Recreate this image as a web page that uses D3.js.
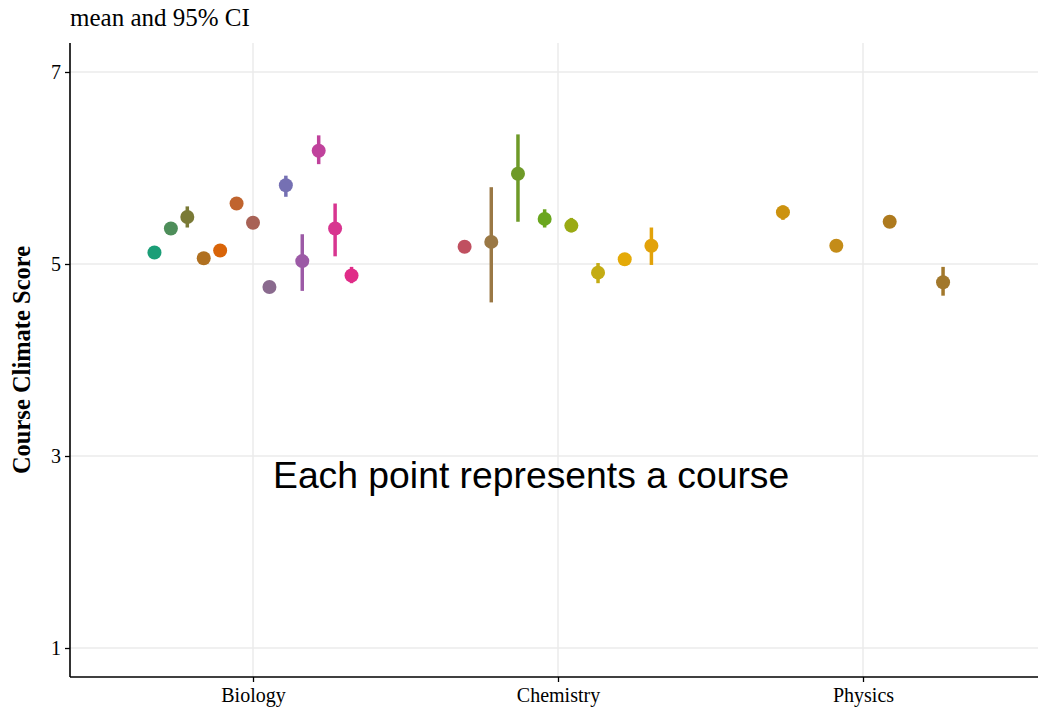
<!DOCTYPE html>
<html>
<head>
<meta charset="utf-8">
<script src="https://cdn.jsdelivr.net/npm/d3@7"></script>
<style>
  html, body { margin: 0; padding: 0; background: #ffffff; }
  svg { display: block; }
</style>
</head>
<body>
<svg id="chart" width="1038" height="709"></svg>
<script>
// ---- data ----
const departments = ["Biology", "Chemistry", "Physics"];
const yTicks = [1, 3, 5, 7];

const courseDept = [
  "Biology","Biology","Biology","Biology","Biology","Biology","Biology",
  "Biology","Biology","Biology","Biology","Biology","Biology",
  "Chemistry","Chemistry","Chemistry","Chemistry","Chemistry","Chemistry","Chemistry","Chemistry",
  "Physics","Physics","Physics","Physics"
];
const courseMean = [
  5.12, 5.37, 5.49, 5.06, 5.14, 5.63, 5.43, 4.76, 5.82, 5.03, 6.18, 5.37, 4.88,
  5.18, 5.23, 5.94, 5.47, 5.40, 4.91, 5.05, 5.19,
  5.54, 5.19, 5.44, 4.81
];
const courseLow = [
  5.09, 5.34, 5.38, 5.03, 5.11, 5.60, 5.40, 4.73, 5.70, 4.72, 6.04, 5.08, 4.80,
  5.15, 4.60, 5.44, 5.38, 5.33, 4.80, 5.02, 4.99,
  5.46, 5.13, 5.41, 4.67
];
const courseHigh = [
  5.15, 5.40, 5.60, 5.09, 5.17, 5.66, 5.46, 4.79, 5.92, 5.31, 6.34, 5.63, 4.97,
  5.21, 5.80, 6.35, 5.57, 5.48, 5.01, 5.08, 5.38,
  5.61, 5.26, 5.47, 4.97
];
const courseColor = [
  "#1b9e77","#4e8e5a","#7a7a36","#b07020","#d96408","#c0642e","#a86256",
  "#8a6a8e","#7570b3","#9c5aa6","#c0429c","#d83590","#e02c88",
  "#c05060","#9a7845","#6e9a28","#6aa61e","#9aaa14","#c4ac14","#e4aa08","#e2a20a",
  "#cc920e","#c48c18","#ae7a1e","#a2782c"
];

// ---- layout ----
const svg = d3.select("#chart");
const padL = 70, padR = 1046, padT = 43, padB = 677;

const x = d3.scalePoint().domain(departments).range([padL, padR]).padding(0.6);
const y = d3.scaleLinear().domain([0.698, 7.302]).range([padB, padT]);
const step = x.step();
const dodgeWidth = 0.7 * step;

// rows
const rows = courseDept.map((d, i) => ({dept: d, mean: courseMean[i], lo: courseLow[i], hi: courseHigh[i], color: courseColor[i]}));
const counts = {};
const idx = {};
rows.forEach(r => { counts[r.dept] = (counts[r.dept] || 0) + 1; });
rows.forEach(r => {
  const k = idx[r.dept] = (idx[r.dept] === undefined ? 0 : idx[r.dept] + 1);
  const n = counts[r.dept];
  r.px = x(r.dept) + (k - (n - 1) / 2) * (dodgeWidth / n);
});

// grid
const grid = svg.append("g");
grid.selectAll("line.gy").data(yTicks).enter().append("line")
  .attr("x1", padL).attr("x2", 1038).attr("y1", d => y(d)).attr("y2", d => y(d))
  .attr("stroke", "#ebebeb").attr("stroke-width", 1.5);
grid.selectAll("line.gx").data(departments).enter().append("line")
  .attr("x1", d => x(d)).attr("x2", d => x(d)).attr("y1", padT).attr("y2", padB)
  .attr("stroke", "#ebebeb").attr("stroke-width", 1.5);

// axes
const yAxis = d3.axisLeft(y).tickValues(yTicks).tickSize(5).tickPadding(4).tickFormat(d3.format("d"));
const gy = svg.append("g").attr("transform", `translate(${padL},0)`).call(yAxis);
gy.select(".domain").attr("d", `M0,${padT}V${padB}`).attr("stroke", "#000").attr("stroke-width", 1.6);
gy.selectAll(".tick line").attr("stroke", "#000").attr("stroke-width", 1.3);
gy.selectAll(".tick text").attr("font-family", "'Liberation Serif', 'Times New Roman', serif")
  .attr("font-size", 20).attr("fill", "#000");

const xAxis = d3.axisBottom(x).tickSize(5).tickPadding(6);
const gx = svg.append("g").attr("transform", `translate(0,${padB})`).call(xAxis);
gx.select(".domain").attr("d", `M${padL},0H1038`).attr("stroke", "#000").attr("stroke-width", 1.6);
gx.selectAll(".tick line").attr("stroke", "#000").attr("stroke-width", 1.3);
gx.selectAll(".tick text").attr("font-family", "'Liberation Serif', 'Times New Roman', serif")
  .attr("font-size", 20).attr("fill", "#000");

// CI lines
svg.append("g").selectAll("line").data(rows).enter().append("line")
  .attr("x1", d => d.px).attr("x2", d => d.px)
  .attr("y1", d => y(d.lo)).attr("y2", d => y(d.hi))
  .attr("stroke", d => d.color).attr("stroke-width", 3.5);

// points
svg.append("g").selectAll("circle").data(rows).enter().append("circle")
  .attr("cx", d => d.px).attr("cy", d => y(d.mean)).attr("r", 7)
  .attr("fill", d => d.color);

// titles
svg.append("text").attr("x", padL).attr("y", 26)
  .attr("font-family", "'Liberation Serif', 'Times New Roman', serif")
  .attr("font-size", 25).attr("fill", "#000").text("mean and 95% CI");

svg.append("text")
  .attr("transform", `translate(30,${(padT + padB) / 2}) rotate(-90)`)
  .attr("text-anchor", "middle")
  .attr("font-family", "'Liberation Serif', 'Times New Roman', serif")
  .attr("font-weight", "bold").attr("font-size", 24.5).attr("fill", "#000")
  .text("Course Climate Score");

svg.append("text").attr("x", 273).attr("y", 488)
  .attr("font-family", "'Liberation Sans', Arial, sans-serif")
  .attr("font-size", 37.3).attr("fill", "#000").text("Each point represents a course");
</script>
</body>
</html>
